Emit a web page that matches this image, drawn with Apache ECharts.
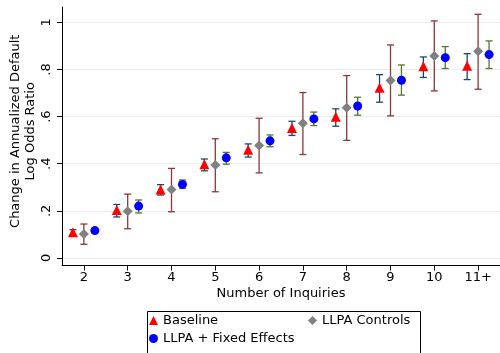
<!DOCTYPE html>
<html>
<head>
<meta charset="utf-8">
<script src="https://cdn.jsdelivr.net/npm/echarts@6/dist/echarts.min.js"></script>
<style>
html,body{margin:0;padding:0;background:#fff;}
#chart{width:500px;height:353px;}
</style>
</head>
<body>
<div id="chart"></div>
<script>
// ---- data ----
const categories = ["2","3","4","5","6","7","8","9","10","11+"];
const yTickValues = [0, 0.2, 0.4, 0.6, 0.8, 1];
const yTickLabels = ["0", ".2", ".4", ".6", ".8", "1"];

const baselineEst   = [0.109, 0.203, 0.290, 0.398, 0.459, 0.552, 0.599, 0.722, 0.814, 0.816];
const baselineLo    = [0.095, 0.174, 0.267, 0.370, 0.428, 0.520, 0.559, 0.661, 0.766, 0.757];
const baselineHi    = [0.120, 0.227, 0.311, 0.420, 0.484, 0.580, 0.633, 0.778, 0.853, 0.867];

const controlsEst   = [0.102, 0.198, 0.290, 0.394, 0.477, 0.572, 0.637, 0.753, 0.857, 0.877];
const controlsLo    = [0.058, 0.124, 0.196, 0.281, 0.361, 0.439, 0.499, 0.603, 0.709, 0.716];
const controlsHi    = [0.144, 0.271, 0.380, 0.506, 0.593, 0.702, 0.774, 0.904, 1.006, 1.034];

const fixedEst      = [0.116, 0.220, 0.312, 0.425, 0.497, 0.590, 0.645, 0.754, 0.850, 0.863];
const fixedLo       = [0.108, 0.191, 0.295, 0.398, 0.472, 0.562, 0.606, 0.691, 0.804, 0.804];
const fixedHi       = [0.125, 0.246, 0.331, 0.448, 0.522, 0.619, 0.682, 0.819, 0.897, 0.921];

// ---- build ----
const FONT = "DejaVu Sans";
function pts(est, off) { return est.map((v, i) => [i + 2 + off, v]); }
function errs(lo, hi, off) { return lo.map((l, i) => [i + 2 + off, l, hi[i]]); }

function errSeries(name, data, color) {
  return {
    name: name, type: 'custom', z: 2, silent: true,
    data: data,
    encode: { x: 0, y: [1, 2] },
    renderItem: function (params, api) {
      const x = api.value(0);
      const lo = api.coord([x, api.value(1)]);
      const hi = api.coord([x, api.value(2)]);
      const cap = 3.5;
      const st = { stroke: color, lineWidth: 1.3 };
      return {
        type: 'group',
        children: [
          { type: 'line', shape: { x1: lo[0], y1: lo[1], x2: hi[0], y2: hi[1] }, style: st },
          { type: 'line', shape: { x1: lo[0] - cap, y1: lo[1], x2: lo[0] + cap, y2: lo[1] }, style: st },
          { type: 'line', shape: { x1: hi[0] - cap, y1: hi[1], x2: hi[0] + cap, y2: hi[1] }, style: st }
        ]
      };
    }
  };
}

const OFF = 0.25;
const legendText = { fontFamily: FONT, fontSize: 13, color: '#000' };
const chart = echarts.init(document.getElementById('chart'), null, { renderer: 'canvas' });
const option = {
  animation: false,
  backgroundColor: '#ffffff',
  textStyle: { fontFamily: FONT },
  grid: { left: 62, right: 0, top: 7, bottom: 87.5, containLabel: false, outerBoundsMode: 'none' },
  xAxis: {
    type: 'value', min: 1.5, max: 11.5,
    name: 'Number of Inquiries', nameLocation: 'middle', nameGap: 22, nameMoveOverlap: false,
    nameTextStyle: { fontFamily: FONT, fontSize: 13, color: '#000' },
    axisLine: { show: true, onZero: false, lineStyle: { color: '#000', width: 1 } },
    axisTick: { show: true, length: 5, lineStyle: { color: '#000' }, customValues: categories.map((c, i) => i + 2) },
    axisLabel: { fontFamily: FONT, fontSize: 13, color: '#000', margin: 6,
      customValues: categories.map((c, i) => i + 2),
      formatter: v => categories[Math.round(v) - 2] },
    splitLine: { show: false }
  },
  yAxis: {
    type: 'value', min: -0.032, max: 1.065,
    name: 'Change in Annualized Default\nLog Odds Ratio', nameLocation: 'middle', nameRotate: 90, nameGap: 24,
    nameMoveOverlap: false,
    nameTextStyle: { fontFamily: FONT, fontSize: 13, color: '#000', lineHeight: 15, padding: [0, 0, 0, 10] },
    axisLine: { show: true, lineStyle: { color: '#000', width: 1 } },
    axisTick: { show: true, length: 5, lineStyle: { color: '#000' }, customValues: yTickValues },
    axisLabel: { fontFamily: FONT, fontSize: 13, color: '#000', rotate: 90, margin: 9,
      customValues: yTickValues,
      formatter: v => { const i = yTickValues.findIndex(t => Math.abs(t - v) < 1e-6); return i >= 0 ? yTickLabels[i] : ''; } },
    splitLine: { show: true, lineStyle: { color: '#e6eff1', width: 1.2 } }
  },
  legend: [
    { left: 149, top: 314, padding: 0, itemWidth: 9, itemHeight: 9, data: ['Baseline'],
      textStyle: legendText, selectedMode: false },
    { left: 308, top: 314, padding: 0, itemWidth: 9, itemHeight: 9, data: ['LLPA Controls'],
      textStyle: legendText, selectedMode: false },
    { left: 149, top: 332, padding: 0, itemWidth: 9, itemHeight: 9, data: ['LLPA + Fixed Effects'],
      textStyle: legendText, selectedMode: false }
  ],
  graphic: [
    { type: 'rect', left: 145, top: 309, shape: { width: 273, height: 43 }, silent: true,
      style: { fill: 'none', stroke: '#000', lineWidth: 1 } }
  ],
  series: [
    errSeries('Baseline CI', errs(baselineLo, baselineHi, -OFF), '#1a476f'),
    errSeries('LLPA Controls CI', errs(controlsLo, controlsHi, 0), '#90353b'),
    errSeries('LLPA + Fixed Effects CI', errs(fixedLo, fixedHi, OFF), '#55752f'),
    { name: 'Baseline', type: 'scatter', z: 5, symbol: 'triangle', symbolSize: 10,
      itemStyle: { color: '#ff0000', opacity: 1 }, data: pts(baselineEst, -OFF) },
    { name: 'LLPA Controls', type: 'scatter', z: 5, symbol: 'diamond', symbolSize: 10,
      itemStyle: { color: '#808080', opacity: 1 }, data: pts(controlsEst, 0) },
    { name: 'LLPA + Fixed Effects', type: 'scatter', z: 5, symbol: 'circle', symbolSize: 9,
      itemStyle: { color: '#0000ff', opacity: 1 }, data: pts(fixedEst, OFF) }
  ]
};
chart.setOption(option);
</script>
</body>
</html>
